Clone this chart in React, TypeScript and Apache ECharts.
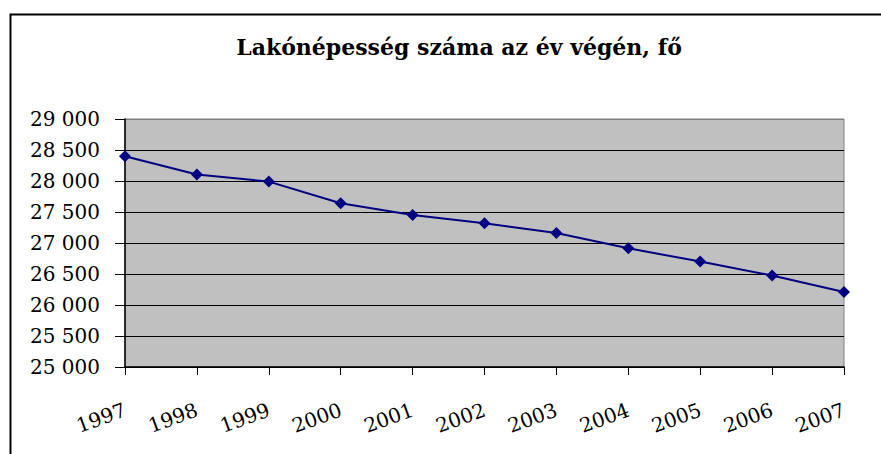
import React, { useEffect, useRef } from "react";
import * as echarts from "echarts";

const titleText = "Lakónépesség száma az év végén, fő";
const years = ["1997", "1998", "1999", "2000", "2001", "2002", "2003", "2004", "2005", "2006", "2007"];
const population = [28400, 28105, 27990, 27640, 27450, 27320, 27160, 26915, 26700, 26475, 26210];
const yMin = 25000;
const yMax = 29000;
const yStep = 500;

const fmt = (v: number) => {
  const s = String(Math.round(v));
  return s.replace(/\B(?=(\d{3})+(?!\d))/g, " ");
};

export default function App() {
  const ref = useRef<HTMLDivElement>(null);
  useEffect(() => {
    if (!ref.current) return;
    const chart = echarts.init(ref.current, undefined, { renderer: "svg" });
    const font = "DejaVu Serif";
    const nLines = (yMax - yMin) / yStep + 1;
    const splitColors = Array.from({ length: nLines }, (_, i) => (i === nLines - 1 ? "#808080" : "#000000"));
    chart.setOption({
      animation: false,
      backgroundColor: "#ffffff",
      textStyle: { fontFamily: font },
      title: {
        text: titleText,
        left: 454,
        textAlign: "center",
        top: 31,
        textStyle: { fontFamily: font, fontSize: 22, fontWeight: "bold", color: "#000" },
      },
      graphic: [
        {
          type: "rect",
          left: 8,
          top: 12,
          shape: { width: 1000, height: 1000 },
          style: { fill: "none", stroke: "#000", lineWidth: 2 },
          silent: true,
          z: 100,
        },
      ],
      grid: {
        left: 125,
        top: 119,
        right: 37,
        bottom: 87,
        show: true,
        backgroundColor: "#C0C0C0",
        borderColor: "#808080",
        borderWidth: 1,
      },
      xAxis: {
        type: "category",
        data: years,
        boundaryGap: false,
        axisLine: { lineStyle: { color: "#000", width: 1.5 } },
        axisTick: { show: true, length: 8, interval: 0, lineStyle: { color: "#000" } },
        axisLabel: {
          interval: 0,
          rotate: 20,
          margin: 42,
          fontSize: 20,
          fontFamily: font,
          color: "#000",
        },
        splitLine: { show: false },
      },
      yAxis: {
        type: "value",
        min: yMin,
        max: yMax,
        interval: yStep,
        axisLine: { show: true, lineStyle: { color: "#000", width: 1.5 } },
        axisTick: { show: true, length: 10, lineStyle: { color: "#000" } },
        axisLabel: {
          margin: 25,
          fontSize: 20,
          fontFamily: font,
          color: "#000",
          formatter: (v: number) => fmt(v),
        },
        splitLine: { show: true, lineStyle: { color: splitColors, width: 1 } },
      },
      series: [
        {
          type: "line",
          data: population,
          symbol: "diamond",
          symbolSize: 12,
          lineStyle: { color: "#000080", width: 2 },
          itemStyle: { color: "#000080" },
        },
      ],
    });
    return () => chart.dispose();
  }, []);
  return (
    <div
      ref={ref}
      style={{ position: "fixed", left: 0, top: 0, width: 881, height: 454 }}
    />
  );
}
